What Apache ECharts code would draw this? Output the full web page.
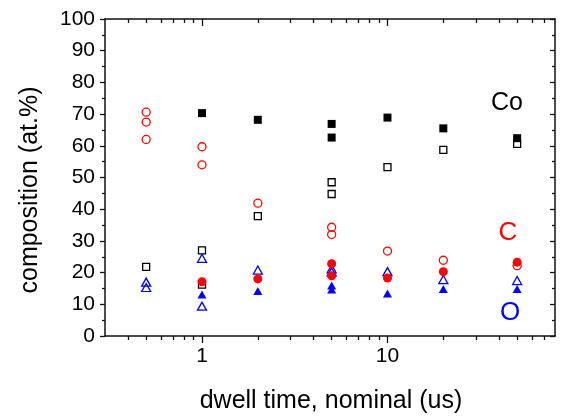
<!DOCTYPE html>
<html>
<head>
<meta charset="utf-8">
<script src="https://cdn.jsdelivr.net/npm/echarts@6/dist/echarts.min.js"></script>
<style>html,body{margin:0;padding:0;background:#fff;}#c{width:569px;height:419px;}</style>
</head>
<body>
<div id="c"></div>
<script>
// x tick positions (dwell time, us)
const xMajorTicks = [1, 10];
const xMinorTicks = [0.4, 0.5, 0.6, 0.7, 0.8, 0.9, 2, 3, 4, 5, 6, 7, 8, 9, 20, 30, 40, 50, 60, 70];
const xMin = 0.3, xMax = 80;
// data [dwell time, composition at.%]
const coFilled = [[1,70.3],[2,68.2],[5,66.9],[5,62.6],[10,68.9],[20,65.5],[50,62.4]];
const coOpen = [[0.5,21.8],[1,27.0],[1,16.2],[2,37.8],[5,48.5],[5,44.8],[10,53.3],[20,58.7],[50,60.6]];
const cOpen = [[0.5,70.6],[0.5,67.5],[0.5,62.0],[1,59.7],[1,54.0],[2,41.9],[5,34.3],[5,32.0],[10,26.8],[20,23.9],[50,22.2]];
const cFilled = [[1,17.1],[2,18.0],[5,22.8],[5,19.0],[10,18.3],[20,20.3],[50,23.3]];
const oOpen = [[0.5,17.0],[0.5,15.3],[1,24.5],[1,9.4],[2,20.8],[5,21.2],[5,20.2],[10,20.3],[20,17.8],[50,17.5]];
const oFilled = [[1,13.1],[2,14.2],[5,15.9],[5,14.7],[10,13.4],[20,14.8],[50,14.8]];

const FONT = 'Liberation Sans';
const L = Math.log10;
const lmin = L(xMin), lmax = L(xMax);
const axLine = {show: true, onZero: false, lineStyle: {color: '#111', width: 1.5}};
const tickStyle = {color: '#111', width: 1.3};

function tickAxis(pos, inside, vals, len, withLine, withLabel) {
  return {
    type: 'value', min: lmin, max: lmax, position: pos,
    axisLine: withLine ? axLine : {show: false, onZero: false},
    axisTick: {show: true, inside: inside, length: len, customValues: vals.map(L), lineStyle: tickStyle},
    axisLabel: withLabel ? {
      show: true, customValues: vals.map(L), fontSize: 21, fontFamily: FONT, color: '#000', margin: 10,
      formatter: v => String(Math.round(Math.pow(10, v)))
    } : {show: false},
    splitLine: {show: false}
  };
}

const chart = echarts.init(document.getElementById('c'));
const hollow = c => ({color: 'rgba(0,0,0,0)', borderColor: c, borderWidth: 1.3, opacity: 1});
const solid = c => ({color: c, opacity: 1});
chart.setOption({
  animation: false,
  backgroundColor: '#fff',
  grid: {left: 105, right: 14, top: 19, bottom: 83},
  xAxis: [
    {type: 'log', min: xMin, max: xMax, show: false},
    tickAxis('bottom', false, xMinorTicks, 4, true, false),
    tickAxis('bottom', false, xMajorTicks, 7, false, true),
    tickAxis('top', true, xMinorTicks, 4, true, false),
    tickAxis('top', true, xMajorTicks, 7, false, false)
  ],
  yAxis: [
    {type: 'value', min: 0, max: 100, interval: 10, position: 'left',
     axisLine: axLine, axisTick: {show: true, inside: false, length: 5, lineStyle: tickStyle},
     minorTick: {show: true, splitNumber: 2, length: 3, lineStyle: tickStyle},
     axisLabel: {fontSize: 21, fontFamily: FONT, color: '#000', margin: 10},
     splitLine: {show: false}},
    {type: 'value', min: 0, max: 100, interval: 10, position: 'right',
     axisLine: axLine, axisTick: {show: true, inside: true, length: 5, lineStyle: tickStyle},
     minorTick: {show: true, splitNumber: 2, length: 3, lineStyle: tickStyle},
     axisLabel: {show: false}, splitLine: {show: false}}
  ],
  series: [
    {type: 'scatter', data: coFilled, symbol: 'rect', symbolSize: 8, itemStyle: solid('#000')},
    {type: 'scatter', data: coOpen, symbol: 'rect', symbolSize: 7, itemStyle: hollow('#000')},
    {type: 'scatter', data: cOpen, symbol: 'circle', symbolSize: 8, itemStyle: hollow('#ff0000')},
    {type: 'scatter', data: oOpen, symbol: 'triangle', symbolSize: [9, 8], itemStyle: hollow('#0000ff')},
    {type: 'scatter', data: cFilled, symbol: 'circle', symbolSize: 9, itemStyle: solid('#ff0000')},
    {type: 'scatter', data: oFilled, symbol: 'triangle', symbolSize: [9, 8], itemStyle: solid('#0000ff')}
  ],
  graphic: [
    {type: 'text', x: 331, y: 401, style: {text: 'dwell time, nominal (us)', fontSize: 25, fontFamily: FONT, fill: '#000', textAlign: 'center', textVerticalAlign: 'middle'}},
    {type: 'text', x: 30, y: 190, rotation: Math.PI / 2, style: {text: 'composition (at.%)', fontSize: 25, fontFamily: FONT, fill: '#000', textAlign: 'center', textVerticalAlign: 'middle'}},
    {type: 'text', x: 507, y: 103, style: {text: 'Co', fontSize: 25, fontFamily: FONT, fill: '#000', textAlign: 'center', textVerticalAlign: 'middle'}},
    {type: 'text', x: 508, y: 233, style: {text: 'C', fontSize: 26, fontFamily: FONT, fill: '#ff0000', textAlign: 'center', textVerticalAlign: 'middle'}},
    {type: 'text', x: 510, y: 313, style: {text: 'O', fontSize: 26, fontFamily: FONT, fill: '#0000ff', textAlign: 'center', textVerticalAlign: 'middle'}}
  ]
});
</script>
</body>
</html>
